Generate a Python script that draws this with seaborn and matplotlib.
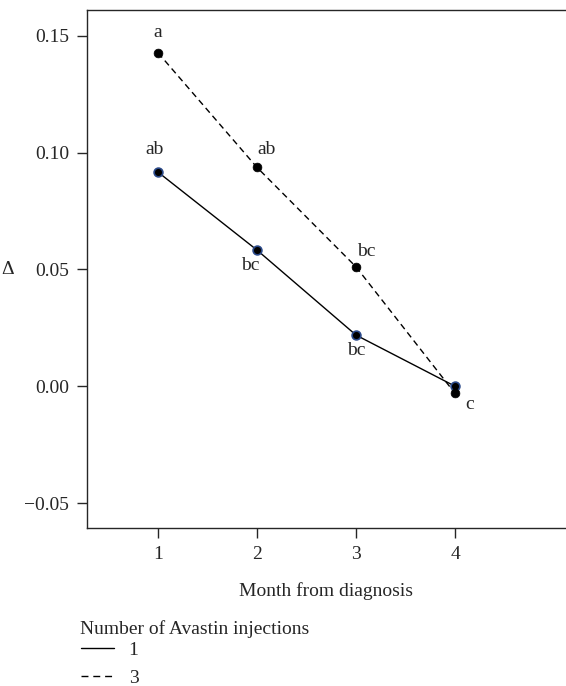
import matplotlib

matplotlib.use("Agg")
import matplotlib.pyplot as plt
import numpy as np
import pandas as pd
import seaborn as sns
from matplotlib.lines import Line2D

# data
months = [1, 2, 3, 4]
delta_one = [0.0917, 0.0583, 0.0219, 0.0000]
delta_three = [0.1428, 0.0937, 0.0511, -0.0031]
letters_one = ["ab", "bc", "bc", ""]
letters_three = ["a", "ab", "bc", "c"]
groups = ["1", "3"]

df = pd.DataFrame({
    "month": months * 2,
    "delta": delta_one + delta_three,
    "injections": [groups[0]] * 4 + [groups[1]] * 4,
})

FS = 14

sns.set_style("ticks")
plt.rcParams["font.family"] = ["Liberation Serif", "DejaVu Serif"]
plt.rcParams["font.size"] = FS

fig = plt.figure(figsize=(5.66, 6.86), dpi=100)
ax = fig.add_axes([0.1537, 0.2303, 0.8463, 0.7551])

sns.lineplot(data=df, x="month", y="delta", style="injections",
             dashes={"1": "", "3": (4.5, 3)}, color="black", lw=1.0,
             legend=False, ax=ax)
sns.scatterplot(data=df[df.injections == "1"], x="month", y="delta",
                color="black", edgecolor="#2b4a8a", linewidth=1.2, s=40,
                zorder=3, legend=False, ax=ax)
sns.scatterplot(data=df[df.injections == "3"], x="month", y="delta",
                color="black", edgecolor="black", linewidth=0.5, s=40,
                zorder=3, legend=False, ax=ax)

# significance letters
off_one = [(-0.03, 0.006, "center", "bottom"), (-0.07, -0.003, "center", "top"),
           (0.0, -0.003, "center", "top"), (0, 0, "center", "top")]
off_three = [(0.0, 0.005, "center", "bottom"), (0.1, 0.004, "center", "bottom"),
             (0.1, 0.003, "center", "bottom"), (0.15, -0.001, "center", "top")]
for x, y, t, (dx, dy, ha, va) in zip(months, delta_one, letters_one, off_one):
    if t:
        ax.text(x + dx, y + dy, t, ha=ha, va=va, fontsize=FS)
for x, y, t, (dx, dy, ha, va) in zip(months, delta_three, letters_three, off_three):
    ax.text(x + dx, y + dy, t, ha=ha, va=va, fontsize=FS)

ax.set_xlim(0.283, 5.12)
ax.set_ylim(-0.0607, 0.1611)
ax.set_xticks(months)
ax.set_yticks([-0.05, 0.0, 0.05, 0.10, 0.15])
ax.set_yticklabels(["\u22120.05", "0.00", "0.05", "0.10", "0.15"])
ax.tick_params(direction="out", length=7, width=1, labelsize=FS, pad=6)
ax.spines["right"].set_visible(False)
for s in ["left", "bottom", "top"]:
    ax.spines[s].set_linewidth(1.0)
ax.set_xlabel("Month from diagnosis", fontsize=FS, labelpad=14)
ax.set_ylabel("\u0394", rotation=0, fontsize=FS, labelpad=12, va="center")

# legend below the plot: title as plain text, entries as a frameless legend
fig.text(80 / 566, 1 - 629 / 686, "Number of Avastin injections",
         ha="left", va="center", fontsize=FS)
handles = [Line2D([], [], color="black", lw=1.0),
           Line2D([], [], color="black", lw=1.0, ls=(0, (5, 3.5)))]
fig.legend(handles, groups, loc="upper left",
           bbox_to_anchor=(0.143, 1 - 641 / 686), frameon=False,
           fontsize=FS, handlelength=1.7, borderpad=0, borderaxespad=0,
           labelspacing=0.55, handletextpad=0.75)

fig.savefig("out.png", dpi=100)
